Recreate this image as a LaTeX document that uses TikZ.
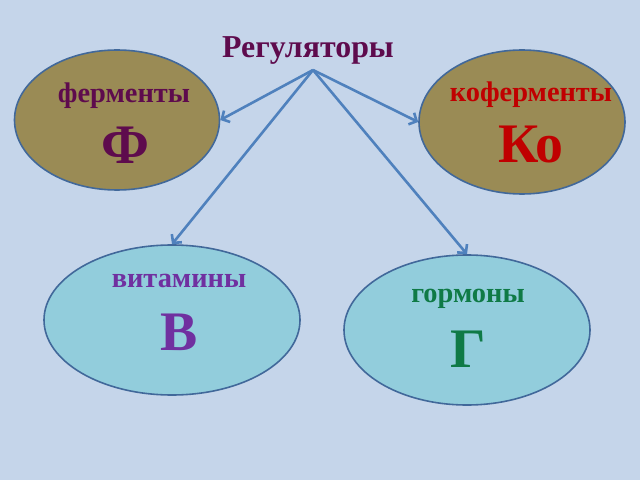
\documentclass[tikz,border=0pt]{standalone}
\usepackage{fontspec}
\setmainfont{Liberation Serif}
\usetikzlibrary{arrows.meta}
\usetikzlibrary{shapes.geometric}
\usetikzlibrary{positioning}
\definecolor{bgblue}{HTML}{C5D5EA}
\definecolor{olive}{HTML}{9A8B55}
\definecolor{cyanfill}{HTML}{92CDDC}
\definecolor{rim}{HTML}{41689A}
\definecolor{arr}{HTML}{4F81BD}
\definecolor{plum}{HTML}{5E0B4D}
\definecolor{darkred}{HTML}{C00000}
\definecolor{violet}{HTML}{7030A0}
\definecolor{dgreen}{HTML}{0F7A46}
\tikzset{oval/.style={ellipse,draw=rim,line width=1.6pt,inner sep=0pt}}
\tikzset{word/.style={anchor=base,font=\bfseries\fontsize{28.5}{30}\selectfont}}
\tikzset{letter/.style={anchor=base,font=\bfseries\fontsize{56}{60}\selectfont}}
\tikzset{link/.style={draw=arr,line width=2.6pt,-{Straight Barb[length=6pt,width=13pt]}}}

\begin{document}
\begin{tikzpicture}[x=1bp,y=-1bp]
\fill[bgblue] (0,0) rectangle (640,480);
\useasboundingbox (0,0) rectangle (640,480);

\node[anchor=base,font=\bfseries\fontsize{32}{34}\selectfont,text=plum](title) at (308,58){Регуляторы};
\coordinate (top) at (313,70);

% four groups
\node[oval,fill=olive,minimum width=205bp,minimum height=140bp](F) at (117,120){};
\node[oval,fill=olive,minimum width=206bp,minimum height=144bp](Ko) at (522,122){};
\node[oval,fill=cyanfill,minimum width=256bp,minimum height=150bp](V) at (172,320){};
\node[oval,fill=cyanfill,minimum width=246bp,minimum height=150bp](G) at (467,330){};

\node[word,text=plum](Fw) at (124,103){ферменты};
\node[letter,text=plum](Fl) at (125,164){Ф};
\node[word,text=darkred](Kow) at (531,102){коферменты};
\node[letter,text=darkred](Kol) at (531,163){Ко};
\node[word,text=violet](Vw) at (179,287){витамины};
\node[letter,text=violet](Vl) at (179,350){В};
\node[word,text=dgreen](Gw) at (468,302){гормоны};
\node[letter,text=dgreen](Gl) at (468,367){Г};

%arrows
\draw[link] (top)--(F.east);
\draw[link] (top)--(Ko.west);
\draw[link] (top)--(V.north);
\draw[link] (top)--(G.north);

\end{tikzpicture}
\end{document}
